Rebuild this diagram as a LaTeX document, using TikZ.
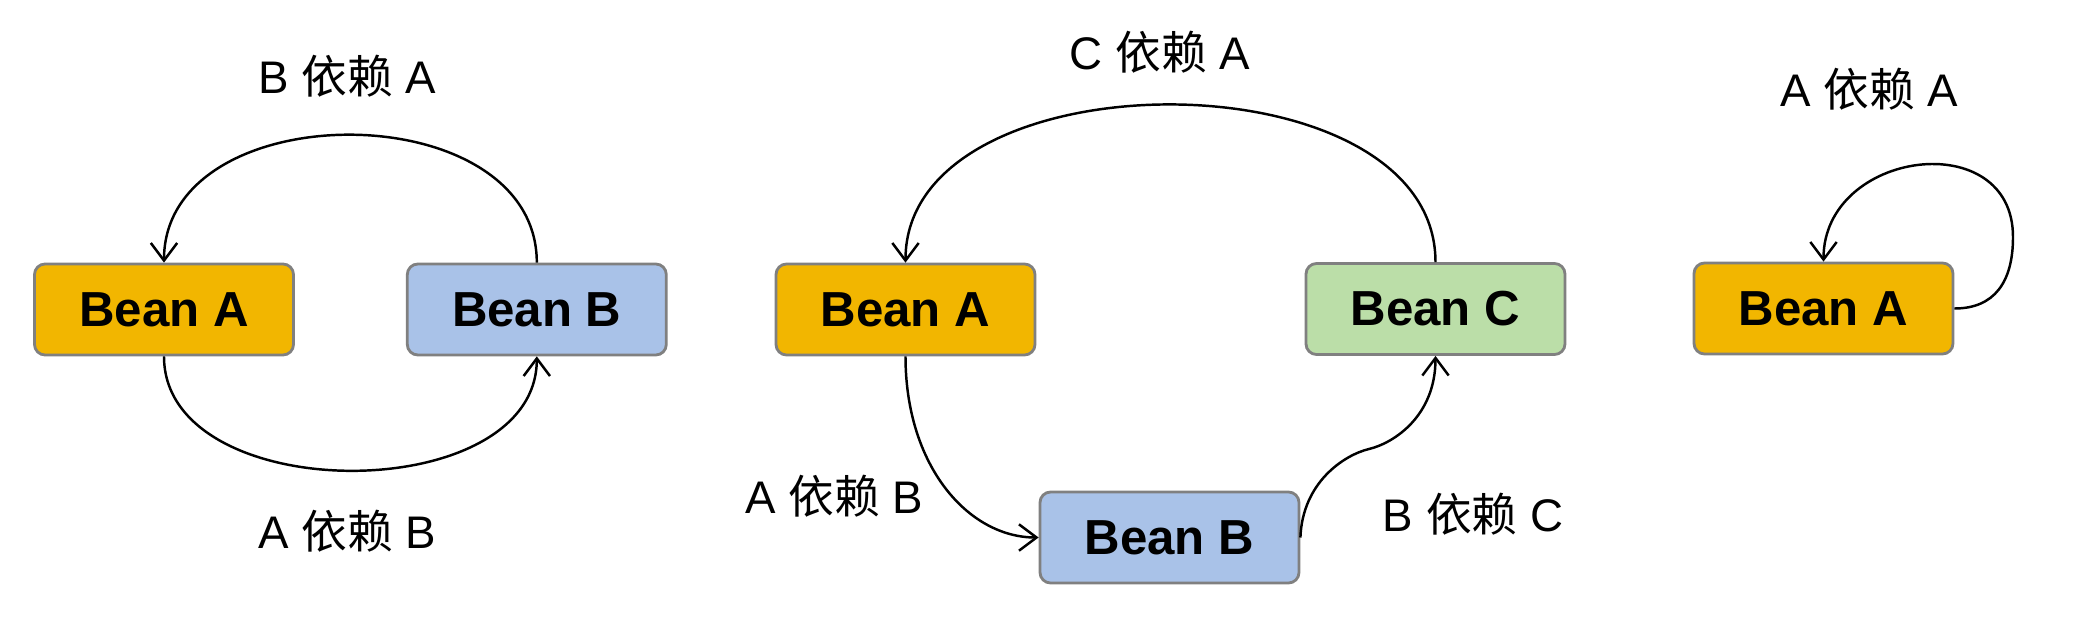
\documentclass[tikz,border=0pt]{standalone}
\usepackage{fontspec}
\setmainfont{Liberation Sans}
\newfontfamily\cjk{Noto Sans CJK SC}
\usetikzlibrary{arrows.meta,positioning}
\definecolor{beanOrange}{RGB}{242,182,0}
\definecolor{beanBlue}{RGB}{169,194,232}
\definecolor{beanGreen}{RGB}{187,222,168}
\definecolor{beanBorder}{RGB}{128,128,128}

\begin{document}
\begin{tikzpicture}[
    bean/.style={draw=beanBorder, line width=0.8pt, rounded corners=3pt,
      minimum width=2.59cm, minimum height=0.91cm, inner sep=0pt,
      font=\fontsize{14}{16}\selectfont\bfseries},
    dep/.style={line width=0.7pt, -{Straight Barb[length=5pt,width=7.5pt]}},
    deplabel/.style={font=\fontsize{13}{15}\selectfont, inner sep=0pt}
  ]
    \useasboundingbox (0,0) rectangle (20.92,6.17);

    % Two beans depending on each other
    \node[bean, fill=beanOrange] (lA) at (1.64,3.075) {Bean A};
    \node[bean, fill=beanBlue, right=1.11cm of lA] (lB) {Bean B};
    \draw[dep] (lB.north) .. controls +(0,1.7) and +(0,1.7) .. (lA.north);
    \draw[dep] (lA.south) .. controls +(0,-1.52) and +(0,-1.52) .. (lB.south);
    \node[deplabel] (lBA) at (3.47,5.41) {B {\cjk 依赖} A};
    \node[deplabel] (lAB) at (3.47,0.86) {A {\cjk 依赖} B};

    % Three beans in a ring
    \node[bean, fill=beanOrange] (mA) at (9.055,3.075) {Bean A};
    \node[bean, fill=beanGreen] (mC) at (14.355,3.08) {Bean C};
    \node[bean, fill=beanBlue] (mB) at (11.695,0.795) {Bean B};
    \coordinate (mKink) at (13.69,1.68);
    \draw[dep] (mC.north) .. controls +(0,2.1) and +(0,2.1) .. (mA.north);
    \draw[dep] (mA.south) .. controls +(0,-1.1) and +(-0.7,0) .. (mB.west);
    \draw[dep] (mB.east) .. controls +(0.02,0.55) and +(-0.25,-0.06) .. (mKink)
      .. controls +(0.25,0.06) and +(0,-0.6) .. (mC.south);
    \node[deplabel] (mCA) at (11.60,5.65) {C {\cjk 依赖} A};
    \node[deplabel] (mAB) at (8.34,1.21) {A {\cjk 依赖} B};
    \node[deplabel] (mBC) at (14.73,1.03) {B {\cjk 依赖} C};

    % A bean depending on itself
    \node[bean, fill=beanOrange] (rA) at (18.235,3.085) {Bean A};
    \coordinate (rLoop) at (20.13,3.80);
    \draw[dep] (rA.east) .. controls +(0.4,0) and +(0,-0.45) .. (rLoop)
      .. controls +(0,1.12) and +(0,1.12) .. (rA.north);
    \node[deplabel] (rAA) at (18.69,5.28) {A {\cjk 依赖} A};
\end{tikzpicture}
\end{document}
